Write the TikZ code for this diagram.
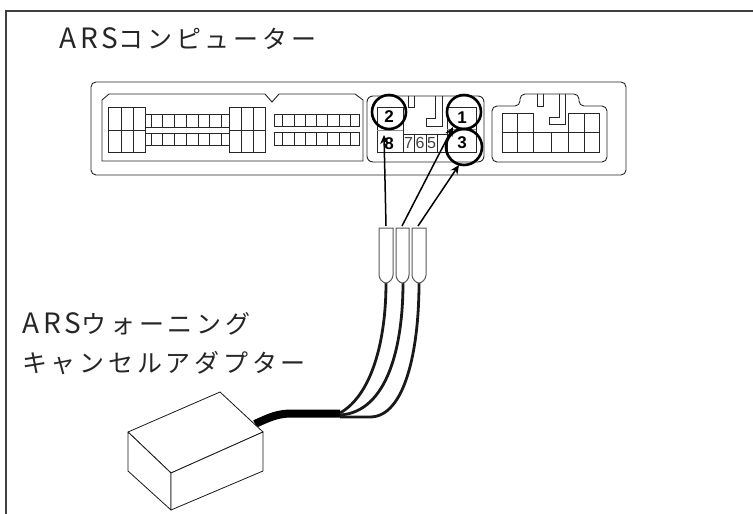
\documentclass[tikz,border=0pt]{standalone}
\usepackage{fontspec}
\setmainfont{Liberation Sans}
\newfontfamily\jpfont[LetterSpace=15]{Noto Sans CJK JP}
\newcommand{\latinpart}[1]{{\fontsize{28}{28}\selectfont #1}}
\usetikzlibrary{arrows.meta}
\tikzset{
  conn/.style={draw=black!85,line width=0.9pt},
  circ/.style={draw=black,line width=2.6pt,circle,minimum size=#1,inner sep=0pt},
  arr/.style={-{Stealth[length=9pt,width=8pt]},line width=1.5pt,black},
  wire/.style={line width=2.8pt,black!90},
  plug/.style={draw=black!65,line width=1pt,fill=white},
  box/.style={draw=black!90,line width=0.8pt,line join=round},
  pin/.style={font=\bfseries\fontsize{17}{17}\selectfont,inner sep=0pt},
  pinr/.style={font=\fontsize{16}{16}\selectfont,inner sep=0pt,text=black!75},
  lab/.style={font=\jpfont\fontsize{25}{25}\selectfont,anchor=base west,inner sep=0pt,text=black!85},
}
\begin{document}
\begin{tikzpicture}[x=1pt,y=-1pt]
\useasboundingbox (0,0) rectangle (753,514);
\draw[line width=1.5pt,black!75] (6,514) -- (6,11) -- (753,11);
% connector body
\draw[conn,rounded corners=5pt] (91,82) rectangle (626,175);
\draw[conn] (109,94) -- (265,94) -- (272,102) -- (279,94) -- (355,94) -- (363,100) -- (363,161) -- (102,161) -- (102,100) -- cycle;
% left block
\foreach \xa/\xb/\ms in {108/145/{121,133},229/265/{241,253}}{
  \draw[conn] (\xa,107) rectangle (\xb,152);
  \draw[conn] (\xa,130) -- (\xb,130);
  \foreach \v in \ms {\draw[conn] (\v,107) -- (\v,152);}
}
\foreach \ya/\yb in {114/127,133/145}{
  \draw[conn] (145,\ya) rectangle (229,\yb);
  \foreach \v in {151,162,174,186,198,209,221}{\draw[conn] (\v,\ya) -- (\v,\yb);}
}
\foreach \ya/\yb in {114/126,132/145}{
  \draw[conn] (274,\ya) rectangle (359,\yb);
  \foreach \v in {282,294,305,316,327,339,350}{\draw[conn] (\v,\ya) -- (\v,\yb);}
}
% middle connector
\draw[conn,rounded corners=6pt] (367,96) rectangle (484,162);
\draw[conn] (377,107) rectangle (403,152);
\draw[draw=black!45,line width=0.8pt] (377,130) -- (403,130);
\draw[conn] (403,134) -- (447,134) (403,152) -- (447,152);
\foreach \v in {414,426,437}{\draw[conn] (\v,134) -- (\v,152);}
\draw[conn] (447,107) rectangle (476,152);
\draw[draw=black!45,line width=0.8pt] (447,129) -- (476,129);
\draw[conn] (408,96) -- (408,107) -- (414,107) -- (414,96);
\draw[conn] (435,96) -- (435,118) -- (426,118) -- (426,126) -- (442,126) -- (442,96);
\node[pin] (n2) at (389,117) {2};
\node[pin] (n8) at (389,144) {8};
\node[pinr] (n7) at (408.5,143) {7};
\node[pinr] (n6) at (420,143) {6};
\node[pinr] (n5) at (431.5,143) {5};
\node[pin] (n1) at (462,118) {1};
\node[pin] (n3) at (462,143) {3};
\node[circ=34pt] (c2) at (389,112) {};
\node[circ=34pt] (c1) at (464,112) {};
\node[circ=36pt] (c3) at (464,147) {};
% right connector
\draw[conn,rounded corners=5pt] (520,106) -- (520,94) -- (579,94) -- (579,106) -- (607,106) -- (607,162) -- (492,162) -- (492,106) -- cycle;
\draw[conn] (533,132) -- (533,113) -- (502,113) -- (502,152) -- (599,152) -- (599,113) -- (568,113) -- (568,132);
\draw[conn] (502,132) -- (599,132);
\foreach \v in {517,584}{\draw[conn] (\v,113) -- (\v,152);}
\foreach \v in {533,551,568}{\draw[conn] (\v,132) -- (\v,152);}
\draw[conn] (537,94) -- (537,106) -- (543,106) -- (543,94);
\draw[conn] (559,94) -- (559,117) -- (549,117) -- (549,124) -- (565,124) -- (565,94);
% labels
\node[lab] (t1) at (59,48) {\latinpart{ARS}コンピューター};
\node[lab] (t2) at (22,333) {\latinpart{ARS}ウォーニング};
\node[lab] (t3) at (22,372) {キャンセルアダプター};
% wires
\draw[wire] (386,283) .. controls (386,340) and (372,395) .. (340,413);
\draw[wire] (403,283) .. controls (403,345) and (388,412) .. (340,415);
\draw[wire] (419,283) .. controls (419,350) and (405,417) .. (370,417) -- (340,417);
\draw[black,line width=8pt] (340,413.5) -- (292,413.5) .. controls (278,413.5) and (270,417) .. (255,424);
% plugs
\foreach \n/\xa/\xb in {pa/379/393,pb/396/409,pc/412/426}{
  \draw[plug] (\xa,228) -- (\xb,228) -- (\xb,275) .. controls (\xb,279) and ({(\xa+\xb)/2+3},283) .. ({(\xa+\xb)/2},283) .. controls ({(\xa+\xb)/2-3},283) and (\xa,279) .. (\xa,275) -- cycle;
  \coordinate (\n) at ({(\xa+\xb)/2},226);
}
% arrows
\coordinate (s1) at (386,226);
\coordinate (s2) at (402,226);
\coordinate (s3) at (418,226);
\coordinate (e1) at (384,135);
\coordinate (e2) at (453,127);
\coordinate (e3) at (459,165);
\draw[arr] (s1) -- (e1);
\draw[arr] (s2) -- (e2);
\draw[arr] (s3) -- (e3);
% adapter box
\draw[box,fill=white] (128,432) -- (220,392) -- (263,432) -- (171,473) -- cycle;
\draw[box,fill=white] (128,432) -- (171,473) -- (171,510) -- (128,471) -- cycle;
\draw[box,fill=white] (171,473) -- (263,432) -- (263,471) -- (171,510) -- cycle;
\end{tikzpicture}
\end{document}
